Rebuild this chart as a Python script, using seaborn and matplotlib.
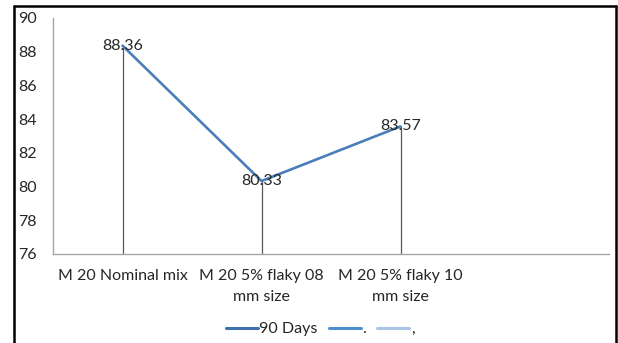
import matplotlib
matplotlib.use("Agg")
import matplotlib.pyplot as plt
import seaborn as sns
import pandas as pd
from matplotlib.lines import Line2D

categories = ["M 20 Nominal mix", "M 20 5% flaky 08\nmm size", "M 20 5% flaky 10\nmm size", ""]
values_90 = [88.36, 80.33, 83.57]
label_texts = ["88.36", "80.33", "83.57"]
series_names = ["90 Days", ".", ","]
yticks = [76, 78, 80, 82, 84, 86, 88, 90]

sns.set_theme(style="white")
plt.rcParams["font.family"] = ["Lato", "DejaVu Sans"]

FS = 11.5
fig = plt.figure(figsize=(6.18, 3.43), dpi=100)
ax = fig.add_axes([53/618, (343-254)/343, (609-53)/618, (254-18)/343])

df = pd.DataFrame({"x": list(range(len(values_90))), "y": values_90, "s": series_names[0]})
line_col = "#4A7EBB"
sns.lineplot(data=df, x="x", y="y", ax=ax, color=line_col, linewidth=1.9, legend=False)

for xi, yi, t in zip(df["x"], df["y"], label_texts):
    ax.vlines(xi, 76, yi, color="#595959", linewidth=0.9, zorder=1)
    ax.text(xi, yi, t, ha="center", va="center", fontsize=FS, color="#262626", zorder=5)

ax.set_xlim(-0.5, len(categories) - 0.5)
ax.set_ylim(76, 90)
ax.set_yticks(yticks)
ax.set_yticklabels([str(v) for v in yticks], fontsize=FS, color="#262626")
ax.set_xticks(range(len(categories)))
ax.set_xticklabels(categories, fontsize=FS, color="#262626", linespacing=1.6)
ax.tick_params(axis="y", length=0, pad=11.5)
ax.tick_params(axis="x", length=0, pad=11)
ax.set_xlabel("")
ax.set_ylabel("")
for side in ["top", "right"]:
    ax.spines[side].set_visible(False)
for side in ["left", "bottom"]:
    ax.spines[side].set_color("#A6A6A6")
    ax.spines[side].set_linewidth(1.0)

legend_colors = ["#3F6FAE", "#4F8FD0", "#A9C4E6"]
handles = [Line2D([0], [0], color=c, linewidth=2.2) for c in legend_colors]
fig.legend(handles, series_names, loc="center", bbox_to_anchor=(320/618, (343-329)/343),
           ncol=3, frameon=False, fontsize=FS, handlelength=2.0, handletextpad=0.1,
           columnspacing=0.7)

# outer border
bc = "black"
fig.add_artist(Line2D([13.5/618, 13.5/618], [0, (343-6)/343], color=bc, linewidth=1.8, transform=fig.transFigure))
fig.add_artist(Line2D([13.5/618, 616/618], [(343-6)/343, (343-6)/343], color=bc, linewidth=1.8, transform=fig.transFigure))
fig.add_artist(Line2D([616/618, 616/618], [0, (343-6)/343], color=bc, linewidth=1.8, transform=fig.transFigure))

fig.savefig("out.png", dpi=100)
